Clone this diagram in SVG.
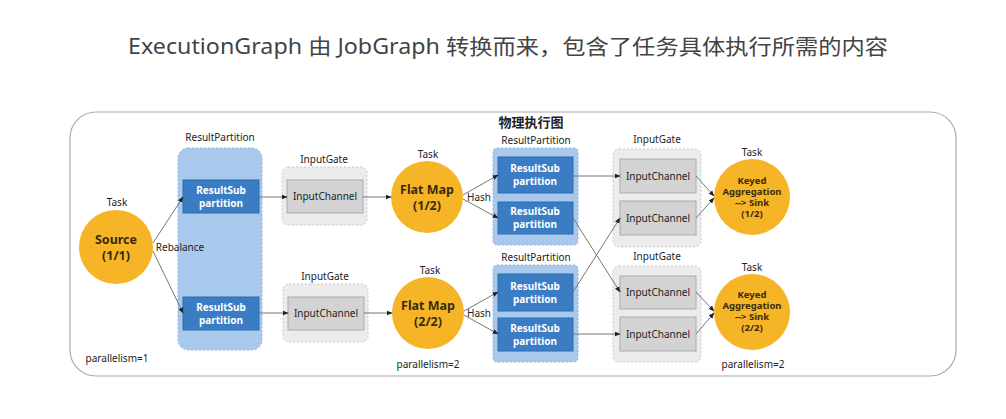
<svg xmlns="http://www.w3.org/2000/svg" width="1006" height="419" viewBox="0 0 1006 419">
<defs>
<style>
text{font-family:"Noto Sans","Noto Sans CJK SC",sans-serif;fill:#222;text-anchor:middle}
.title{font-size:21px;fill:#444}
.lbl{font-size:10px}
.task{fill:#F5B526}
.ttxt{font-size:12.5px;font-weight:bold;fill:#3a2a10}
.ktxt{font-size:9.5px;font-weight:bold;fill:#3a2a10}
.rp{fill:#A9C9EC;stroke:#8fb3dc;stroke-dasharray:2 2;stroke-width:1}
.rs{fill:#3A7DC5;stroke:#2f6db0}
.rstxt{font-size:10px;font-weight:bold;fill:#fff}
.ig{fill:#ececec;stroke:#c8c8c8;stroke-dasharray:2 2}
.ic{fill:#d3d3d3;stroke:#aaa}
.ictxt{font-size:10px;fill:#222}
.edge{stroke:#777;stroke-width:1;fill:none;marker-end:url(#arr)}
</style>
<marker id="arr" viewBox="0 0 10 10" refX="9" refY="5" markerWidth="6" markerHeight="6" markerUnits="userSpaceOnUse" orient="auto">
<path d="M0,1 L10,5 L0,9 z" fill="#222"/>
</marker>
</defs>
<rect width="1006" height="419" fill="#fff"/>
<text class="title" x="508" y="54" textLength="760" lengthAdjust="spacingAndGlyphs">ExecutionGraph 由 JobGraph 转换而来，包含了任务具体执行所需的内容</text>
<g id="frame">
<rect x="70" y="112" width="886" height="264" rx="26" fill="none" stroke="#aaa" stroke-width="1.2"/>
<text x="531" y="127" style="font-size:13px;font-weight:bold">物理执行图</text>
</g>
<g id="source">
<text class="lbl" x="117" y="206">Task</text>
<circle class="task" cx="116" cy="247" r="37"/>
<text class="ttxt" x="116" y="244">Source</text>
<text class="ttxt" x="116" y="260">(1/1)</text>
<text class="lbl" x="117" y="362">parallelism=1</text>
</g>
<g id="rp1">
<text class="lbl" x="220" y="141">ResultPartition</text>
<rect class="rp" x="178" y="148" width="84" height="202" rx="10"/>
<rect class="rs" x="183" y="180" width="76" height="33"/>
<text class="rstxt" x="221" y="194">ResultSub</text>
<text class="rstxt" x="221" y="207">partition</text>
<rect class="rs" x="183" y="297" width="76" height="33"/>
<text class="rstxt" x="221" y="311">ResultSub</text>
<text class="rstxt" x="221" y="324">partition</text>
</g>
<g id="ig1">
<text class="lbl" x="324" y="163">InputGate</text>
<rect class="ig" x="282" y="167" width="85" height="58" rx="6"/>
<rect class="ic" x="287" y="180" width="76" height="33"/>
<text class="ictxt" x="325" y="200">InputChannel</text>
</g>
<g id="ig2">
<text class="lbl" x="325" y="280">InputGate</text>
<rect class="ig" x="283" y="284" width="85" height="58" rx="6"/>
<rect class="ic" x="288" y="297" width="76" height="33"/>
<text class="ictxt" x="326" y="317">InputChannel</text>
</g>
<g id="flatmap1">
<text class="lbl" x="428" y="158">Task</text>
<circle class="task" cx="427" cy="197" r="36"/>
<text class="ttxt" x="427" y="194">Flat Map</text>
<text class="ttxt" x="427" y="210">(1/2)</text>
</g>
<g id="flatmap2">
<text class="lbl" x="430" y="274">Task</text>
<circle class="task" cx="428" cy="313" r="36"/>
<text class="ttxt" x="428" y="310">Flat Map</text>
<text class="ttxt" x="428" y="326">(2/2)</text>
<text class="lbl" x="428" y="368">parallelism=2</text>
</g>
<g id="rp2">
<text class="lbl" x="536" y="144">ResultPartition</text>
<rect class="rp" x="493" y="148" width="85" height="97" rx="4"/>
<rect class="rs" x="498" y="157" width="75" height="36"/>
<text class="rstxt" x="535" y="172">ResultSub</text>
<text class="rstxt" x="535" y="185">partition</text>
<rect class="rs" x="498" y="202" width="75" height="32"/>
<text class="rstxt" x="535" y="215">ResultSub</text>
<text class="rstxt" x="535" y="228">partition</text>
</g>
<g id="rp3">
<text class="lbl" x="536" y="261">ResultPartition</text>
<rect class="rp" x="493" y="265" width="85" height="97" rx="4"/>
<rect class="rs" x="498" y="274" width="75" height="37"/>
<text class="rstxt" x="535" y="290">ResultSub</text>
<text class="rstxt" x="535" y="303">partition</text>
<rect class="rs" x="498" y="318" width="75" height="33"/>
<text class="rstxt" x="535" y="332">ResultSub</text>
<text class="rstxt" x="535" y="345">partition</text>
</g>
<g id="ig3">
<text class="lbl" x="657" y="143">InputGate</text>
<rect class="ig" x="613" y="149" width="88" height="98" rx="6"/>
<rect class="ic" x="620" y="159" width="76" height="34"/>
<text class="ictxt" x="658" y="180">InputChannel</text>
<rect class="ic" x="620" y="201" width="76" height="34"/>
<text class="ictxt" x="658" y="222">InputChannel</text>
</g>
<g id="ig4">
<text class="lbl" x="657" y="260">InputGate</text>
<rect class="ig" x="613" y="266" width="88" height="96" rx="6"/>
<rect class="ic" x="620" y="276" width="76" height="33"/>
<text class="ictxt" x="658" y="296">InputChannel</text>
<rect class="ic" x="620" y="317" width="76" height="34"/>
<text class="ictxt" x="658" y="338">InputChannel</text>
</g>
<g id="sink1">
<text class="lbl" x="752" y="156">Task</text>
<circle class="task" cx="752" cy="197" r="38"/>
<text class="ktxt" x="752" y="184">Keyed</text>
<text class="ktxt" x="752" y="195">Aggregation</text>
<text class="ktxt" x="752" y="206">--&gt; Sink</text>
<text class="ktxt" x="752" y="217">(1/2)</text>
</g>
<g id="sink2">
<text class="lbl" x="752" y="271">Task</text>
<circle class="task" cx="752" cy="312" r="38"/>
<text class="ktxt" x="752" y="298">Keyed</text>
<text class="ktxt" x="752" y="309">Aggregation</text>
<text class="ktxt" x="752" y="320">--&gt; Sink</text>
<text class="ktxt" x="752" y="331">(2/2)</text>
<text class="lbl" x="753" y="368">parallelism=2</text>
</g>
<g id="edges">
<line class="edge" x1="153" y1="243" x2="183" y2="197"/>
<line class="edge" x1="153" y1="251" x2="183" y2="313"/>
<line class="edge" x1="259" y1="197" x2="287" y2="197"/>
<line class="edge" x1="259" y1="313" x2="288" y2="313"/>
<line class="edge" x1="363" y1="197" x2="391" y2="197"/>
<line class="edge" x1="364" y1="313" x2="392" y2="313"/>
<line class="edge" x1="463" y1="195" x2="498" y2="175"/>
<line class="edge" x1="463" y1="199" x2="498" y2="218"/>
<line class="edge" x1="464" y1="311" x2="498" y2="292"/>
<line class="edge" x1="464" y1="315" x2="498" y2="334"/>
<line class="edge" x1="573" y1="176" x2="620" y2="176"/>
<line class="edge" x1="573" y1="218" x2="620" y2="292"/>
<line class="edge" x1="573" y1="292" x2="620" y2="218"/>
<line class="edge" x1="573" y1="334" x2="620" y2="334"/>
<line class="edge" x1="696" y1="176" x2="714" y2="196"/>
<line class="edge" x1="696" y1="218" x2="714" y2="198"/>
<line class="edge" x1="696" y1="292" x2="714" y2="311"/>
<line class="edge" x1="696" y1="334" x2="714" y2="313"/>
<text class="lbl" x="180" y="251">Rebalance</text>
<text class="lbl" x="479" y="201">Hash</text>
<text class="lbl" x="479" y="317">Hash</text>
</g>
</svg>
